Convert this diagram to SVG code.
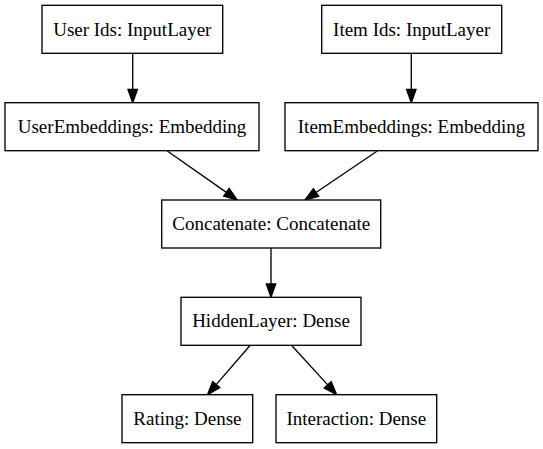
<svg xmlns="http://www.w3.org/2000/svg" width="543" height="449" viewBox="0 0 543 449">
<style>
.box{fill:#fff;stroke:#000;stroke-width:1.33}
.lbl{font-family:"Liberation Serif","Times New Roman",serif;font-size:19px;text-anchor:middle;fill:#000}
.edge{stroke:#000;stroke-width:1.33;fill:none}
.head{fill:#000;stroke:#000;stroke-width:1.33}
</style>
<rect width="543" height="449" fill="#fff"/>
<g id="connectors">
<line class="edge" x1="132.7" y1="53.3" x2="132.7" y2="89.4"/>
<polygon class="head" points="128,89.4 137.4,89.4 132.7,102.7"/>
<line class="edge" x1="411.3" y1="53.3" x2="411.3" y2="89.4"/>
<polygon class="head" points="406.6,89.4 416,89.4 411.3,102.7"/>
<line class="edge" x1="167.3" y1="151" x2="226.4" y2="192.35"/>
<polygon class="head" points="223.7,196.2 229.1,188.5 237.3,200"/>
<line class="edge" x1="377.3" y1="151" x2="316" y2="192.5"/>
<polygon class="head" points="313.4,188.65 318.7,196.4 305,200"/>
<line class="edge" x1="271" y1="248" x2="271" y2="284"/>
<polygon class="head" points="266.3,284 275.7,284 271,297.3"/>
<line class="edge" x1="250" y1="345.5" x2="216.2" y2="384.6"/>
<polygon class="head" points="212.7,381.56 219.75,387.66 207.5,394.7"/>
<line class="edge" x1="291.7" y1="345.5" x2="327.7" y2="384.9"/>
<polygon class="head" points="324.25,388 331.15,381.7 336.7,394.7"/>
</g>
<g id="user_ids">
<rect class="box" x="42" y="5.3" width="180.7" height="48"/>
<text class="lbl" x="132.3" y="35.5">User Ids: InputLayer</text>
</g>
<g id="item_ids">
<rect class="box" x="321.7" y="5.3" width="180" height="48"/>
<text class="lbl" x="411.7" y="35.5">Item Ids: InputLayer</text>
</g>
<g id="user_embeddings">
<rect class="box" x="5" y="102.7" width="254" height="48"/>
<text class="lbl" x="132" y="132.8">UserEmbeddings: Embedding</text>
</g>
<g id="item_embeddings">
<rect class="box" x="285" y="102.7" width="253" height="48"/>
<text class="lbl" x="411.5" y="132.8">ItemEmbeddings: Embedding</text>
</g>
<g id="concatenate">
<rect class="box" x="161.7" y="200" width="219" height="48"/>
<text class="lbl" x="271.2" y="230.1">Concatenate: Concatenate</text>
</g>
<g id="hidden_layer">
<rect class="box" x="181" y="297.3" width="180" height="48"/>
<text class="lbl" x="271" y="327.4">HiddenLayer: Dense</text>
</g>
<g id="rating">
<rect class="box" x="122" y="394.7" width="130.7" height="48"/>
<text class="lbl" x="187.4" y="424.8">Rating: Dense</text>
</g>
<g id="interaction">
<rect class="box" x="276" y="394.7" width="160.7" height="48"/>
<text class="lbl" x="356.3" y="424.8">Interaction: Dense</text>
</g>
</svg>
